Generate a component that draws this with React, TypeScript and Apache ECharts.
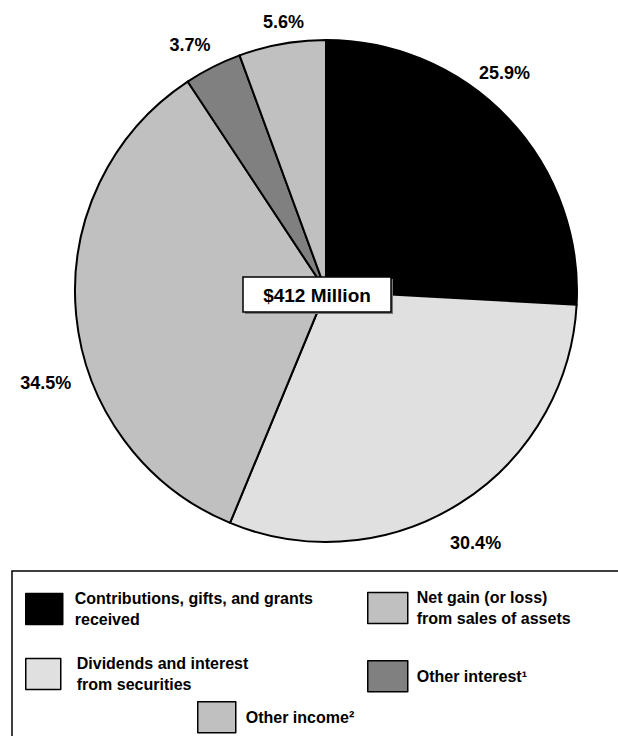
import React, { useEffect, useRef } from "react";
import * as echarts from "echarts";

const categories = [
  "Contributions, gifts, and grants\nreceived",
  "Dividends and interest\nfrom securities",
  "Net gain (or loss)\nfrom sales of assets",
  "Other interest¹",
  "Other income²",
];
const values = [25.9, 30.4, 34.5, 3.7, 5.6];
const colors = ["#000000", "#e0e0e0", "#c0c0c0", "#808080", "#c0c0c0"];
const totalLabel = "$412 Million";
// label nudges (pie order) to match the original placement of percentage labels
const labelNudgeX = [-43, -21, 12, 8, 29];
const labelNudgeY = [-37, 29, 67, -11, -10];

const FONT = "Liberation Sans, Arial, sans-serif";

export default function App() {
  const ref = useRef<HTMLDivElement>(null);
  useEffect(() => {
    if (!ref.current) return;
    const chart = echarts.init(ref.current, null, { renderer: "svg" });
    const legendPos = [
      { left: 25, top: 588, w: 37, pad: 7 },
      { left: 25, top: 653, w: 35, pad: 11 },
      { left: 367, top: 587, w: 40, pad: 4 },
      { left: 367, top: 660, w: 40, pad: 4 },
      { left: 197, top: 701, w: 38, pad: 5 },
    ];
    const legends = categories.map((c, i) => ({
      data: [c],
      left: legendPos[i].left,
      top: legendPos[i].top,
      orient: "horizontal",
      itemWidth: legendPos[i].w,
      itemHeight: 31,
      itemGap: 0,
      icon: "rect",
      selectedMode: false,
      padding: 0,
      itemStyle: { borderColor: "#000", borderWidth: 1.5 },
      textStyle: {
        fontFamily: FONT,
        fontWeight: "bold",
        fontSize: 16,
        lineHeight: 21,
        color: "#000",
        padding: [0, 0, 0, legendPos[i].pad],
      },
    }));
    chart.setOption({
      animation: false,
      backgroundColor: "#fff",
      legend: legends,
      graphic: [
        {
          type: "rect",
          shape: { x: 12, y: 571, width: 700, height: 300 },
          style: { fill: "none", stroke: "#000", lineWidth: 1.5 },
          z: 1,
        },
        {
          type: "rect",
          z: 100,
          shape: { x: 245, y: 279, width: 148, height: 35 },
          style: { fill: "#777" },
        },
        {
          type: "rect",
          z: 101,
          shape: { x: 243, y: 277, width: 148, height: 35 },
          style: { fill: "#fff", stroke: "#000", lineWidth: 1.5 },
        },
        {
          type: "text",
          z: 102,
          x: 317,
          y: 295,
          style: {
            text: totalLabel,
            fontFamily: FONT,
            fontWeight: "bold",
            fontSize: 19,
            fill: "#000",
            align: "center",
            verticalAlign: "middle",
          },
        },
      ],
      series: [
        {
          type: "pie",
          center: [326, 291],
          radius: [0, 251],
          startAngle: 90,
          clockwise: true,
          avoidLabelOverlap: false,
          data: categories.map((c, i) => ({
            name: c,
            value: values[i],
            itemStyle: { color: colors[i] },
          })),
          itemStyle: { borderColor: "#000", borderWidth: 2 },
          label: {
            show: true,
            position: "outside",
            formatter: (p: any) => `${p.value}%`,
            fontFamily: FONT,
            fontWeight: "bold",
            fontSize: 18,
            color: "#000",
          },
          labelLine: { show: false, length: 12, length2: 0 },
          labelLayout: (p: any) => ({
            dx: labelNudgeX[p.dataIndex],
            dy: labelNudgeY[p.dataIndex],
          }),
          emphasis: { disabled: true },
        },
      ],
    });
    return () => chart.dispose();
  }, []);
  return (
    <div
      ref={ref}
      style={{ position: "absolute", left: 0, top: 0, width: 618, height: 736 }}
    />
  );
}
